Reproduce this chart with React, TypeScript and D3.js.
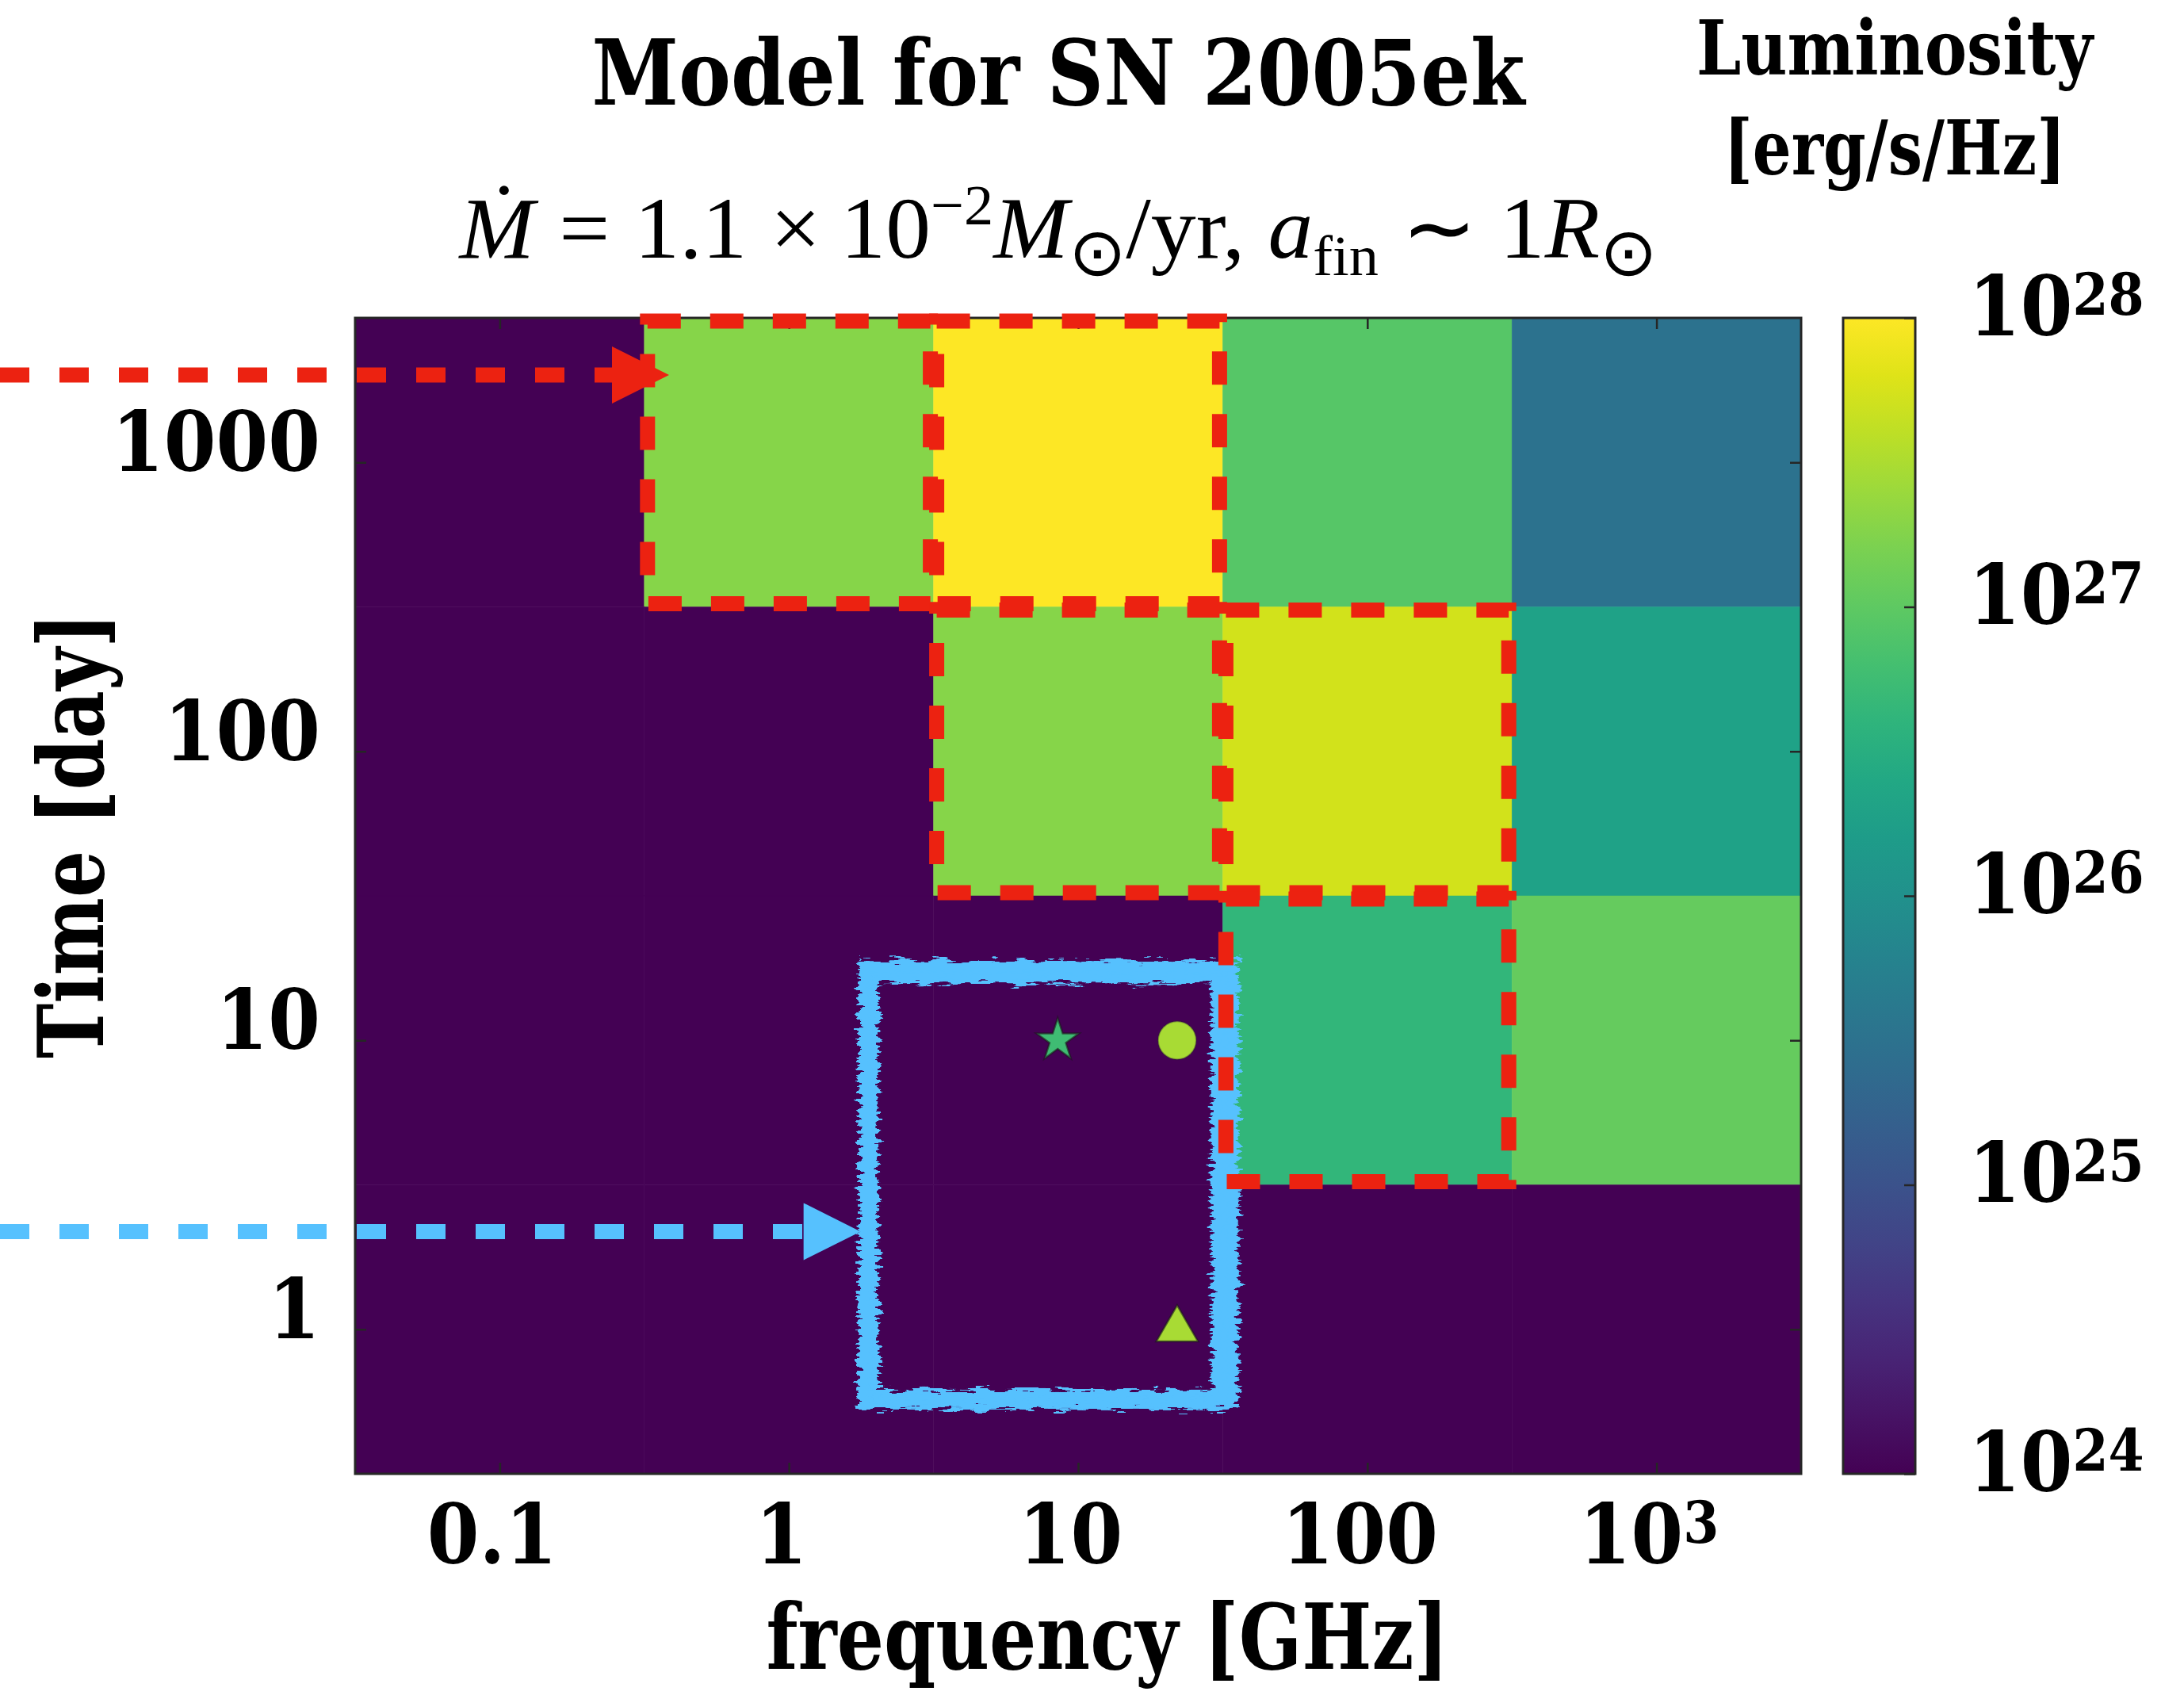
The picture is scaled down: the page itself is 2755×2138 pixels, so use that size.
import { useEffect, useRef } from "react";
import * as d3 from "d3";

// model grid: frequency [GHz] and time [day]
const frequencies = [0.1, 1, 10, 100, 1000];
const times = [1000, 100, 10, 1];

// log10 luminosity [erg/s/Hz] per time row, one value per frequency (22 = below colour range)
const lum1000 = [22, 27.28, 28.0, 26.94, 25.5];
const lum100 = [22, 22, 27.28, 27.72, 26.3];
const lum10 = [22, 22, 22, 26.64, 27.06];
const lum1 = [22, 22, 22, 22, 22];
const lumRows = [lum1000, lum100, lum10, lum1];

// cells outlined in red: [frequency, time]
const highlighted = [[1, 1000], [10, 1000], [10, 100], [100, 100], [100, 10]];

// observed points
const obsFreq = [8.5, 22, 22];
const obsTime = [10, 10, 1];
const obsLum = [26.76, 27.48, 27.48];
const obsShape = ["star", "circle", "triangle"];

// annotations (data coords)
const redArrowTip = [0.385, 2006];
const blueArrowTip = [1.77, 2.18];
const blueBoxFreq = [1.89, 31.1];
const blueBoxTime = [0.573, 17];

const xTicks = [0.1, 1, 10, 100, 1000];
const yTicks = [1, 10, 100, 1000];
const cTicks = [24, 25, 26, 27, 28];

export default function App() {
  const width = 2755;
  const height = 2138;
  const plotLeft = 448;
  const plotRight = 2272;
  const plotTop = 401;
  const plotBottom = 1859;
  const cbLeft = 2325;
  const cbRight = 2416;
  const font = "'DejaVu Serif Condensed', 'DejaVu Serif', serif";
  const mathFont = "'Liberation Serif', 'Times New Roman', serif";
  const axisColor = "#262626";
  const red = "#ec2211";
  const blue = "#56c1fe";

  const gx = useRef(null);
  const gxTop = useRef(null);
  const gy = useRef(null);
  const gyRight = useRef(null);
  const gc = useRef(null);

  const x = d3.scaleLog().domain([10 ** -1.5, 10 ** 3.5]).range([plotLeft, plotRight]);
  const y = d3.scaleLog().domain([10 ** -0.5, 10 ** 3.5]).range([plotBottom, plotTop]);
  const c = d3.scaleLinear().domain([24, 28]).range([plotBottom, plotTop]);
  const color = d3.scaleSequential(d3.interpolateViridis).domain([24, 28]).clamp(true);
  const half = Math.sqrt(10);

  useEffect(() => {
    const style = (g) => {
      g.attr("font-family", font).attr("font-stretch", "condensed").attr("font-weight", "bold")
        .attr("font-size", 105).attr("color", axisColor);
      g.select(".domain").remove();
      g.selectAll(".tick line").attr("stroke-width", 2.5);
      g.selectAll(".tick text").attr("fill", "#000");
    };
    const power = (text, exp) => {
      text.text("");
      text.append("tspan").text("10");
      text.append("tspan").attr("font-size", 72).attr("dy", -26).text(exp);
    };

    d3.select(gx.current)
      .call(d3.axisBottom(x).tickValues(xTicks).tickSizeInner(-14).tickSizeOuter(0).tickPadding(38)
        .tickFormat(d => d3.format("~g")(d)))
      .call(style)
      .call(g => g.selectAll(".tick text").attr("dx", -10))
      .call(g => g.selectAll(".tick text").filter(d => d === 1000).each(function () { power(d3.select(this), "3"); }));

    d3.select(gxTop.current)
      .call(d3.axisTop(x).tickValues(xTicks).tickSizeInner(-14).tickSizeOuter(0).tickFormat(() => ""))
      .call(style);

    d3.select(gy.current)
      .call(d3.axisLeft(y).tickValues(yTicks).tickSizeInner(-14).tickSizeOuter(0).tickPadding(44)
        .tickFormat(d => d3.format("~g")(d)))
      .call(style)
      .call(g => g.selectAll(".tick text").attr("dy", "0.1em"));

    d3.select(gyRight.current)
      .call(d3.axisLeft(y).tickValues(yTicks).tickSizeInner(14).tickSizeOuter(0).tickFormat(() => ""))
      .call(style);

    d3.select(gc.current)
      .call(d3.axisLeft(c).tickValues(cTicks).tickSizeInner(14).tickSizeOuter(0).tickPadding(-81)
        .tickFormat(() => ""))
      .call(style)
      .call(g => g.selectAll(".tick text").attr("text-anchor", "start").attr("dy", "0.2em")
        .each(function (d) { power(d3.select(this), String(d)); }));
  }, []);

  const cells = [];
  times.forEach((t, i) => {
    frequencies.forEach((f, j) => {
      cells.push({ f, t, v: lumRows[i][j] });
    });
  });

  const gradStops = d3.range(0, 1.0001, 0.05);

  const redY = y(redArrowTip[1]);
  const redX = x(redArrowTip[0]);
  const blueY = y(blueArrowTip[1]);
  const blueX = x(blueArrowTip[0]);
  const headLen = 72;
  const headHalf = 36;

  const bx0 = x(blueBoxFreq[0]);
  const bx1 = x(blueBoxFreq[1]);
  const by0 = y(blueBoxTime[1]);
  const by1 = y(blueBoxTime[0]);
  const inset = 4;

  const labelProps = { fontFamily: font, fontStretch: "condensed", fontWeight: "bold", lengthAdjust: "spacingAndGlyphs" };

  return (
    <svg width={width} height={height} style={{ position: "absolute", left: 0, top: 0, background: "#fff" }}>
      <defs>
        <linearGradient id="viridis" x1="0" y1="1" x2="0" y2="0">
          {gradStops.map(s => <stop key={s} offset={s} stopColor={d3.interpolateViridis(s)} />)}
        </linearGradient>
        <filter id="brush" x="-10%" y="-10%" width="120%" height="120%">
          <feTurbulence type="fractalNoise" baseFrequency="0.04 0.22" numOctaves={3} seed={7} result="noise" />
          <feDisplacementMap in="SourceGraphic" in2="noise" scale={22} xChannelSelector="R" yChannelSelector="G" />
        </filter>
      </defs>

      {/* heatmap */}
      <g>
        {cells.map((d, i) => (
          <rect key={i}
            x={x(d.f / half)} y={y(d.t * half)}
            width={x(d.f * half) - x(d.f / half)} height={y(d.t / half) - y(d.t * half)}
            fill={color(d.v)} stroke={color(d.v)} strokeWidth={0.5} />
        ))}
      </g>

      {/* observations */}
      <g>
        {obsFreq.map((f, i) => {
          const cx = x(f), cy = y(obsTime[i]);
          const fill = color(obsLum[i]);
          if (obsShape[i] === "circle") return <circle key={i} cx={cx} cy={cy} r={24} fill={fill} stroke="#2a2a2a" strokeOpacity={0.35} strokeWidth={2} />;
          const sym = obsShape[i] === "star" ? d3.symbol(d3.symbolStar).size(900) : d3.symbol(d3.symbolTriangle).size(1200);
          return <path key={i} d={sym()} transform={`translate(${cx},${cy})`} fill={fill} stroke="#1a1a1a" strokeOpacity={0.6} strokeWidth={2.5} />;
        })}
      </g>

      <g ref={gxTop} transform={`translate(0,${plotTop})`} />
      <g ref={gyRight} transform={`translate(${plotRight},0)`} />
      <g ref={gx} transform={`translate(0,${plotBottom})`} />
      <g ref={gy} transform={`translate(${plotLeft},0)`} />
      <rect x={plotLeft} y={plotTop} width={plotRight - plotLeft} height={plotBottom - plotTop} fill="none" stroke={axisColor} strokeWidth={3} />

      {/* hand-drawn blue box */}
      <g filter="url(#brush)" fill="none" stroke={blue}>
        <rect x={bx0} y={by0} width={bx1 - bx0} height={by1 - by0} strokeWidth={24} />
        <rect x={bx0 - 6} y={by0 - 10} width={bx1 - bx0 + 22} height={by1 - by0 + 16} strokeWidth={14} />
        <rect x={bx0 + 8} y={by0 + 4} width={bx1 - bx0 - 4} height={by1 - by0 - 2} strokeWidth={8} />
      </g>

      {/* red dashed cells */}
      <g fill="none" stroke={red} strokeWidth={19} strokeDasharray="42 37">
        {highlighted.map(([f, t], i) => (
          <rect key={i} x={x(f / half) + inset} y={y(t * half) + inset}
            width={x(f * half) - x(f / half) - 2 * inset} height={y(t / half) - y(t * half) - 2 * inset} />
        ))}
      </g>

      {/* arrows */}
      <line x1={0} x2={redX - headLen + 4} y1={redY} y2={redY} stroke={red} strokeWidth={19} strokeDasharray="37 38" />
      <path d={`M${redX},${redY}L${redX - headLen},${redY - headHalf}L${redX - headLen},${redY + headHalf}Z`} fill={red} />
      <line x1={0} x2={blueX - headLen + 4} y1={blueY} y2={blueY} stroke={blue} strokeWidth={19} strokeDasharray="37 38" />
      <path d={`M${blueX},${blueY}L${blueX - headLen},${blueY - headHalf}L${blueX - headLen},${blueY + headHalf}Z`} fill={blue} />

      {/* colorbar */}
      <rect x={cbLeft} y={plotTop} width={cbRight - cbLeft} height={plotBottom - plotTop} fill="url(#viridis)" stroke={axisColor} strokeWidth={3} />
      <g ref={gc} transform={`translate(${cbRight},0)`} />
      <text x={2390} y={94} textAnchor="middle" fontSize={96} textLength={500} {...labelProps}>Luminosity</text>
      <text x={2390} y={220} textAnchor="middle" fontSize={96} textLength={431} {...labelProps}>[erg/s/Hz]</text>

      {/* titles */}
      <text x={1335} y={132} textAnchor="middle" fontSize={115} textLength={1177} {...labelProps}>Model for SN 2005ek</text>
      <text x={1335} y={325} textAnchor="middle" fontFamily={mathFont} fontSize={110} textLength={1511} lengthAdjust="spacingAndGlyphs">
        <tspan fontStyle="italic">Ṁ</tspan>
        <tspan dx={30}>=</tspan>
        <tspan dx={30}>1.1</tspan>
        <tspan dx={28}>×</tspan>
        <tspan dx={24}>10</tspan>
        <tspan fontSize={72} dy={-42}>−2</tspan>
        <tspan fontStyle="italic" dy={42}>M</tspan>
        <tspan fontSize={84} dy={22}>⊙</tspan>
        <tspan dy={-22}>/yr,</tspan>
        <tspan dx={28} fontStyle="italic">a</tspan>
        <tspan fontSize={72} dy={22}>fin</tspan>
        <tspan dx={28} dy={-22}>∼</tspan>
        <tspan dx={28}>1</tspan>
        <tspan fontStyle="italic">R</tspan>
        <tspan fontSize={84} dy={22}>⊙</tspan>
      </text>

      <text x={1397} y={2105} textAnchor="middle" fontSize={115} textLength={861} {...labelProps}>frequency [GHz]</text>
      <text transform={`translate(130,1054) rotate(-90)`} textAnchor="middle" fontSize={115} textLength={562} {...labelProps}>Time [day]</text>
    </svg>
  );
}
